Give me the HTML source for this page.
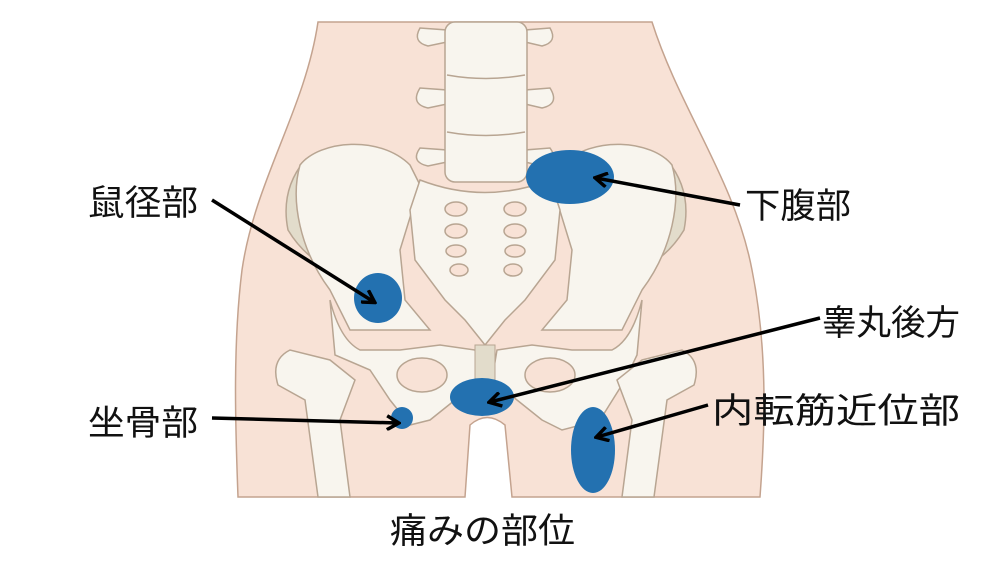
<!DOCTYPE html>
<html><head><meta charset="utf-8"><style>
body{margin:0;background:#fff;}
svg{display:block}
text{font-family:"Liberation Sans","Noto Sans CJK JP",sans-serif;font-size:35px;fill:#111}
</style></head><body>
<svg width="1000" height="563" viewBox="0 0 1000 563" xmlns="http://www.w3.org/2000/svg">
<defs><marker id="a" markerWidth="16" markerHeight="16" refX="13" refY="8" orient="auto" markerUnits="userSpaceOnUse"><path d="M2,1 L14,8 L2,15" fill="none" stroke="#000" stroke-width="3.5"/></marker></defs>
<path d="M318,22 C305,110 255,180 242,270 C232,350 236,440 238,497 L465,497 L470,425 Q487,410 505,425 L512,497 L760,497 C765,430 768,350 752,270 C735,180 680,110 652,22 Z" fill="#f8e2d6" stroke="#c4a38f" stroke-width="1.5"/>
<g fill="#e2dccb" stroke="#b8a592" stroke-width="1.5">
<path d="M305,160 Q280,190 288,230 Q300,250 318,262 L310,190 Z"/>
<path d="M667,160 Q692,190 684,230 Q672,250 654,262 L662,190 Z"/>
</g>
<g fill="#f8f5ee" stroke="#b8a592" stroke-width="1.5">
<path d="M420,28 Q412,42 428,46 L447,42 L447,30 Z"/><path d="M550,28 Q558,42 542,46 L525,42 L525,30 Z"/>
<path d="M420,88 Q410,104 428,108 L447,104 L447,90 Z"/><path d="M550,88 Q560,104 542,108 L525,104 L525,90 Z"/>
<path d="M420,148 Q410,162 428,166 L447,162 L447,150 Z"/><path d="M550,148 Q560,162 542,166 L525,162 L525,150 Z"/>
<rect x="445" y="22" width="82" height="160" rx="10"/>
<path d="M300,165 C320,140 380,135 410,165 L420,185 L400,250 L405,300 L430,330 L350,330 L330,290 C300,250 290,200 300,165 Z"/>
<path d="M672,165 C652,140 592,135 562,165 L552,185 L572,250 L567,300 L542,330 L622,330 L642,290 C672,250 682,200 672,165 Z"/>
<path d="M420,180 Q485,205 550,180 L560,210 L555,260 L525,300 L505,320 L485,345 L465,320 L445,300 L415,260 L410,210 Z"/>
<path d="M330,300 Q340,340 360,350 L400,350 L440,345 L475,350 L480,380 L455,400 L430,420 L410,425 L390,400 L370,370 L335,355 Z"/>
<path d="M642,300 Q632,340 612,350 L572,350 L532,345 L497,350 L492,380 L517,400 L542,420 L562,430 L600,420 L625,380 L637,355 Z"/>
<path d="M290,350 Q270,360 278,385 L305,400 L318,497 L350,497 L340,420 L355,380 L330,360 Z"/>
<path d="M682,350 Q702,360 694,385 L667,400 L654,497 L622,497 L632,420 L617,380 L642,360 Z"/>
</g>
<g fill="none" stroke="#b8a592" stroke-width="1.5">
<path d="M447,75 Q486,82 525,75"/><path d="M447,132 Q486,139 525,132"/>
</g>
<g fill="#f8e2d6" stroke="#b8a592" stroke-width="1.5">
<ellipse cx="422" cy="375" rx="25" ry="17"/><ellipse cx="550" cy="375" rx="25" ry="17"/>
<ellipse cx="456" cy="209" rx="11" ry="7"/><ellipse cx="515" cy="209" rx="11" ry="7"/>
<ellipse cx="456" cy="231" rx="11" ry="7"/><ellipse cx="515" cy="231" rx="11" ry="7"/>
<ellipse cx="456" cy="251" rx="10" ry="6"/><ellipse cx="515" cy="251" rx="10" ry="6"/>
<ellipse cx="459" cy="270" rx="9" ry="6"/><ellipse cx="513" cy="270" rx="9" ry="6"/>
</g>
<rect x="475" y="345" width="20" height="40" fill="#e2dccb" stroke="#b8a592"/>
<g fill="#2371b0">
<ellipse cx="570" cy="177" rx="44" ry="27"/>
<ellipse cx="378" cy="298" rx="24" ry="25"/>
<ellipse cx="482" cy="397" rx="32" ry="19"/>
<circle cx="402" cy="418" r="11"/>
<ellipse cx="593" cy="450" rx="22" ry="43"/>
</g>
<g stroke="#000" stroke-width="3.5" fill="none" marker-end="url(#a)">
<line x1="212" y1="200" x2="374" y2="302"/>
<line x1="740" y1="205" x2="596" y2="178"/>
<line x1="820" y1="318" x2="490" y2="402"/>
<line x1="708" y1="405" x2="597" y2="437"/>
<line x1="212" y1="418" x2="398" y2="423"/>
</g>
<text x="88" y="215" textLength="110" lengthAdjust="spacingAndGlyphs">鼠径部</text>
<text x="745" y="218" textLength="106" lengthAdjust="spacingAndGlyphs">下腹部</text>
<text x="822" y="335" textLength="138" lengthAdjust="spacingAndGlyphs">睾丸後方</text>
<text x="712" y="423" textLength="248" lengthAdjust="spacingAndGlyphs">内転筋近位部</text>
<text x="88" y="435" textLength="110" lengthAdjust="spacingAndGlyphs">坐骨部</text>
<text x="390" y="543" textLength="185" lengthAdjust="spacingAndGlyphs">痛みの部位</text>
</svg>
</body></html>
